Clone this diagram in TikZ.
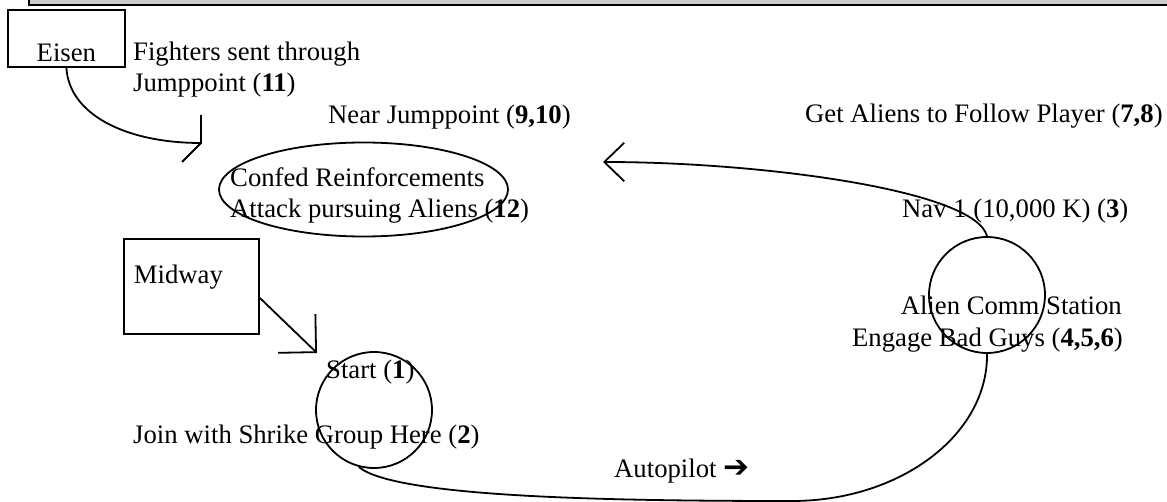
\documentclass[tikz,border=0pt]{standalone}
\usepackage{fontspec}
\setmainfont{Liberation Serif}
\newfontfamily\symfont{DejaVu Sans}
\usetikzlibrary{arrows.meta,shapes.geometric}
\newcommand\diagfont{\fontsize{26.7pt}{30.7pt}\selectfont}
\begin{document}
\begin{tikzpicture}[x=1pt,y=-1pt,
  txt/.style={inner sep=0pt, font=\diagfont},
  boxnode/.style={draw, line width=1.8pt, inner sep=0pt, font=\diagfont},
  ring/.style={draw, circle, line width=1.8pt, minimum size=116pt, inner sep=0pt},
  conn/.style={line width=1.8pt, line join=miter},
  barb/.style={-{Straight Barb[angle=#1]}}]
\useasboundingbox (0,0) rectangle (1167,502);
% top band (cut-off frame)
\fill[gray!40] (29,0) rectangle (1167,5);
\draw[line width=1.6pt] (29,0) -- (29,5) -- (1167,5);
% boxes and shapes
\node[boxnode, anchor=north west, minimum width=117pt, text height=52pt, text depth=5pt] (Eisen) at (7,9) {Eisen};
\node[boxnode, anchor=north west, text width=115pt, inner xsep=10pt, text height=45pt, text depth=50pt, align=left] (Midway) at (123,238) {Midway};
\node[draw, ellipse, line width=1.8pt, minimum width=289pt, minimum height=94pt, inner sep=0pt] (Confed) at (363.5,189.5) {};
\node[ring] (Start) at (374,410) {};
\node[ring] (Nav) at (987,295) {};
% texts
\node[txt, anchor=base west] (t1) at (133,61) {Fighters sent through};
\node[txt, anchor=base west] (t2) at (133,92) {Jumppoint (\textbf{11})};
\node[txt, anchor=base west] (t3) at (328,124) {Near Jumppoint (\textbf{9,10})};
\node[txt, anchor=base west] (t4) at (805,123) {Get Aliens to Follow Player (\textbf{7,8})};
\node[txt, anchor=base west] (t5) at (230,187) {Confed Reinforcements};
\node[txt, anchor=base west] (t6) at (230,218) {Attack pursuing Aliens (\textbf{12})};
\node[txt, anchor=base west] (t7) at (902,218) {Nav 1 (10,000 K) (\textbf{3})};
\node[txt, anchor=base east] (t8) at (1122,315) {Alien Comm Station};
\node[txt, anchor=base east] (t9) at (1123,347) {Engage Bad Guys (\textbf{4,5,6})};
\node[txt, anchor=base west] (t10) at (326,378) {Start (\textbf{1})};
\node[txt, anchor=base west] (t11) at (133,443) {Join with Shrike Group Here (\textbf{2})};
\node[txt, anchor=base west] (t12) at (614,477) {Autopilot {\symfont\bfseries\fontsize{31pt}{30pt}\selectfont ➔}};
% free ends of connectors
\coordinate (eend) at (201,143);
\coordinate (mend) at (317,353);
\coordinate (nend) at (603,162);
% connectors
\draw[conn] (Eisen.south) .. controls (69,114) and (125,143) .. (eend);
\draw[conn] (eend) ++(0,-28) -- (eend) -- ++(-19,19);
\draw[conn, barb=90:38pt] ([yshift=-11.5pt]Midway.east) -- (mend);
\draw[conn, barb=88:27.6pt] (Nav.north) .. controls (975,190) and (760,162) .. (nend);
\draw[conn] (Start.-105) .. controls (395,498) and (620,501) .. (792,501)
  .. controls (900,501) and (988,435) .. (Nav.south);
\end{tikzpicture}
\end{document}
